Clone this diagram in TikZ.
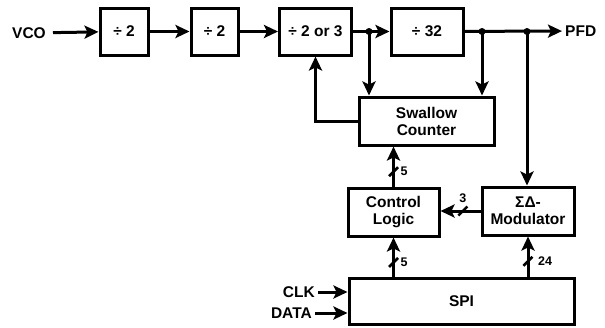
\documentclass[tikz,border=0pt]{standalone}
\usepackage{fontspec}
\setmainfont{Liberation Sans}
\usetikzlibrary{arrows.meta,positioning,calc}
\tikzset{
  blk/.style={draw,line width=3pt,minimum height=47pt,align=center,font=\fontsize{15.5}{17}\selectfont\bfseries,inner sep=2pt},
  txt/.style={font=\fontsize{15.5}{17}\selectfont\bfseries,inner sep=3pt},
  arr/.style={-{Stealth[length=14pt,width=13pt,inset=3pt]},line width=3pt},
  jdot/.style={circle,fill,inner sep=0pt,minimum size=7pt},
  tick/.style={line width=2.6pt},
  lbl/.style={font=\fontsize{12.5}{14}\selectfont\bfseries,inner sep=1pt},
}

\begin{document}
\begin{tikzpicture}[x=1pt,y=-1pt]
  \useasboundingbox (0,0) rectangle (605,327);
  % divider chain
  \node[blk,minimum width=48pt] (divA) at (124,31.5) {÷ 2};
  \node[blk,minimum width=47pt] (divB) at (214.5,31.5) {÷ 2};
  \node[blk,minimum width=72pt] (divC) at (315.5,31.5) {÷ 2 or 3};
  \node[blk,minimum width=72pt] (divD) at (427,31.5) {÷ 32};
  \node[txt] (vco) at (29,33) {VCO};
  \node[txt,anchor=west] (pfd) at (562,31) {PFD};
  \coordinate (j1) at (369,31.5);
  \coordinate (j2) at (482,31.5);
  \coordinate (j3) at (527,31.5);
  % control blocks
  \node[blk,minimum width=135pt,minimum height=48pt] (swc) at (426.5,121) {Swallow\\Counter};
  \node[blk,minimum width=91pt,minimum height=48pt] (ctl) at (393.5,212) {Control\\Logic};
  \node[blk,minimum width=92pt,minimum height=48pt] (sdm) at (528,211) {ΣΔ-\\Modulator};
  \node[blk,minimum width=225pt,minimum height=46pt] (spi) at (461.5,301) {SPI};
  \node[txt,anchor=east] (clk) at (318,292) {CLK};
  \node[txt,anchor=east] (data) at (315,313) {DATA};

  \draw[arr,shorten <=4pt] (vco) -- (divA);
  \draw[arr] (divA) -- (divB);
  \draw[arr] (divB) -- (divC);
  \draw[arr] (divC) -- (divD);
  \draw[arr] (divD) -- (pfd);
  \foreach \j in {j1,j2,j3}{\node[jdot] at (\j) {};}
  \draw[arr] (j1) -- (j1 |- swc.north);
  \draw[arr] (j2) -- (j2 |- swc.north);
  \draw[arr] (j3) -- (j3 |- sdm.north);
  \draw[arr] (swc.west) -| (divC.south);

  % buses
  \draw[arr] (ctl.north) -- coordinate[pos=0.37] (b1) (ctl.north |- swc.south);
  \draw[arr] (sdm.west) -- coordinate[pos=0.44] (b2) (sdm.west -| ctl.east);
  \draw[arr] (spi.north -| ctl) -- coordinate[pos=0.36] (b3) (ctl.south);
  \draw[arr] (spi.north -| sdm) -- coordinate[pos=0.38] (b4) (sdm.south);
  \foreach \b in {b1,b2,b3,b4}{\draw[tick] ($(\b)+(-4.5,4.5)$) -- ($(\b)+(4.5,-4.5)$);}
  \node[lbl,right=6pt of b1] {5};
  \node[lbl,above=7pt of b2] {3};
  \node[lbl,right=6pt of b3] {5};
  \node[lbl,right=9pt of b4] {24};

  \draw[arr] (clk) -- (clk -| spi.west);
  \draw[arr] (data) -- (data -| spi.west);
\end{tikzpicture}
\end{document}
